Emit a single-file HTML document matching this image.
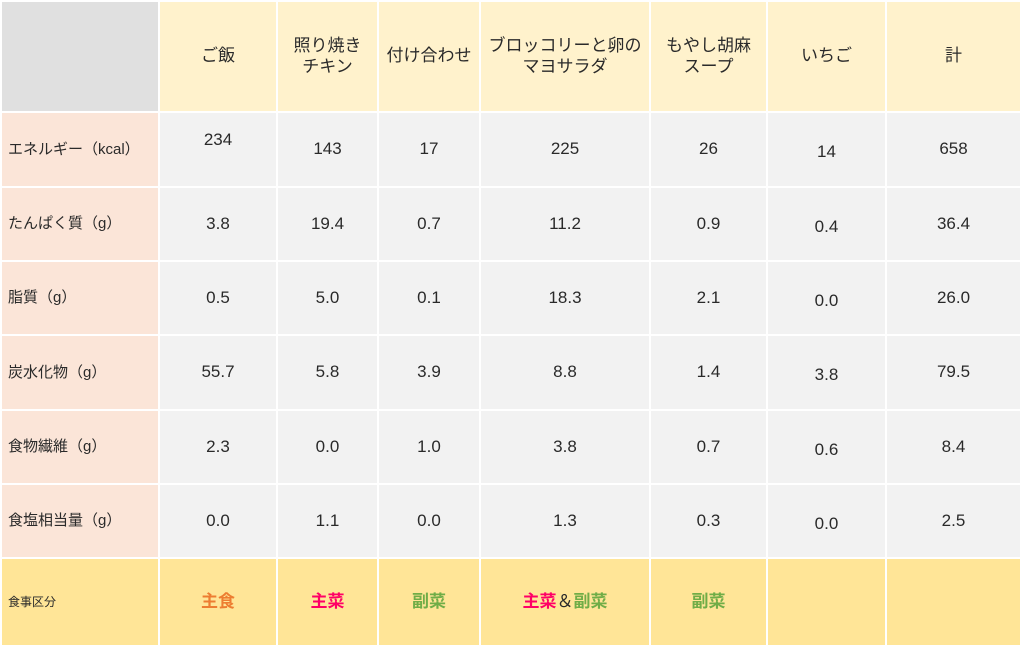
<!DOCTYPE html>
<html><head><meta charset="utf-8">
<style>
body{margin:0;width:1024px;height:649px;background:#fff;overflow:hidden;font-family:"Liberation Sans","Noto Sans CJK JP",sans-serif;color:#2a2a2a}
.c{position:absolute;display:flex;align-items:center;justify-content:center;text-align:center;box-sizing:border-box;font-size:17px;line-height:1.2}
.rh{justify-content:flex-start;padding-left:6px;font-size:15px;background:#fbe5d8}
.hd{background:#fff2cc;font-size:17px}
.d{background:#f2f2f2}
.b{background:#ffe597;font-size:17px}
</style></head>
<body>
<div id="t"></div>
<script>
const colsX=[2,160,278,379,481,651,768,887,1022];
const rowsY=[2,113,188,262,336,411,485,559,647];
const headers=["ご飯","照り焼き<br>チキン","付け合わせ","ブロッコリーと卵の<br>マヨサラダ","もやし胡麻<br>スープ","いちご","計"];
const rowLabels=["エネルギー（kcal）","たんぱく質（g）","脂質（g）","炭水化物（g）","食物繊維（g）","食塩相当量（g）"];
const values=[
["234","143","17","225","26","14","658"],
["3.8","19.4","0.7","11.2","0.9","0.4","36.4"],
["0.5","5.0","0.1","18.3","2.1","0.0","26.0"],
["55.7","5.8","3.9","8.8","1.4","3.8","79.5"],
["2.3","0.0","1.0","3.8","0.7","0.6","8.4"],
["0.0","1.1","0.0","1.3","0.3","0.0","2.5"]];
const cats=['<b style="color:#ed7d31">主食</b>','<b style="color:#ff0066">主菜</b>','<b style="color:#70ad47">副菜</b>','<b style="color:#ff0066">主菜</b>＆<b style="color:#70ad47">副菜</b>','<b style="color:#70ad47">副菜</b>','',''];
const t=document.getElementById('t');
function cell(r,c,cls,html,name,extra){
  const d=document.createElement('div');
  d.className='c '+cls;
  d.style.left=colsX[c]+'px';d.style.top=rowsY[r]+'px';
  d.style.width=(colsX[c+1]-colsX[c]-2)+'px';d.style.height=(rowsY[r+1]-rowsY[r]-2)+'px';
  if(extra)d.style.cssText+=extra;
  d.innerHTML=html;
  
  
  t.appendChild(d);
}
cell(0,0,'','','corner-cell','background:#e0e0e0');
headers.forEach((h,i)=>cell(0,i+1,'hd',h,'column-header'));
rowLabels.forEach((l,r)=>{
  cell(r+1,0,'rh',l,'row-header');
  values[r].forEach((v,c)=>{
    let ex='';
    if(r===0&&c===0)ex='padding-bottom:18px';
    if(c===5)ex='padding-top:6px';
    cell(r+1,c+1,'d',v,'value-cell',ex);
  });
});
cell(7,0,'rh b','食事区分','category-header','font-size:12px');
cats.forEach((h,i)=>cell(7,i+1,'b',h,'category-cell'));
</script>
</body></html>
